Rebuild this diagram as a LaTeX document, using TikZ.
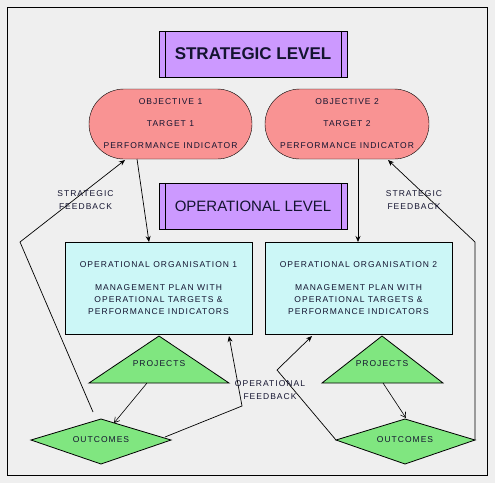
\documentclass[tikz,border=0pt]{standalone}
\usepackage{fontspec}
\setmainfont{Liberation Sans}
\newfontfamily\lbl[LetterSpace=12]{Liberation Sans}
\newfontfamily\bigf{Liberation Sans}
\usetikzlibrary{arrows.meta}
\definecolor{bgc}{HTML}{EFEFEF}
\definecolor{purp}{HTML}{CC99FF}
\definecolor{salm}{HTML}{F99393}
\definecolor{cyanb}{HTML}{CCF7F7}
\definecolor{grn}{HTML}{80E680}
\definecolor{txt}{HTML}{141430}
\tikzset{
  small/.style={font=\lbl\fontsize{8.5}{13}\selectfont, text=txt, inner sep=0pt},
  levelbox/.style={draw=black, fill=purp, minimum width=188pt, minimum height=46pt, inner sep=0pt, text=txt},
  pill/.style={draw=black, fill=salm, rounded corners=35pt, minimum width=163pt, minimum height=70pt, inner sep=0pt, align=center, text=txt, font=\lbl\fontsize{8.5}{22}\selectfont},
  opbox/.style={draw=black, fill=cyanb, minimum width=187pt, minimum height=92pt, inner sep=0pt, align=center, text=txt, font=\lbl\fontsize{8.5}{12}\selectfont},
  shp/.style={draw=black, fill=grn, line width=0.8pt},
  conn/.style={draw=black, line width=0.7pt, -{Stealth[length=6pt,width=5pt]}},
  oconn/.style={draw=black, line width=0.6pt, -{Straight Barb[length=5pt,width=6pt]}},
  lab/.style={small, align=center}
}
\begin{document}
\begin{tikzpicture}[x=1pt,y=-1pt]
\fill[bgc] (0,0) rectangle (495,483);
\useasboundingbox (0,0) rectangle (495,483);
\draw[line width=0.9pt] (7,7) rectangle (487,475);

% level boxes
\node[levelbox, font=\bigf\bfseries\fontsize{17}{18}\selectfont] (strat) at (253,54) {STRATEGIC LEVEL};
\draw ([xshift=6pt]strat.north west) -- ([xshift=6pt]strat.south west);
\draw ([xshift=-6pt]strat.north east) -- ([xshift=-6pt]strat.south east);
\node[levelbox, font=\bigf\fontsize{15}{18}\selectfont] (oper) at (253,206) {OPERATIONAL LEVEL};
\draw ([xshift=6pt]oper.north west) -- ([xshift=6pt]oper.south west);
\draw ([xshift=-6pt]oper.north east) -- ([xshift=-6pt]oper.south east);

% objectives
\node[pill] (obj1) at (170.5,124) {OBJECTIVE 1\\TARGET 1\\PERFORMANCE INDICATOR};
\node[pill, minimum width=164pt] (obj2) at (347,124) {OBJECTIVE 2\\TARGET 2\\PERFORMANCE INDICATOR};

% operational organisations
\node[opbox] (op1) at (158.5,288) {OPERATIONAL ORGANISATION 1\\[11pt]MANAGEMENT PLAN WITH\\OPERATIONAL TARGETS \&\\PERFORMANCE INDICATORS};
\node[opbox] (op2) at (358.5,288) {OPERATIONAL ORGANISATION 2\\[11pt]MANAGEMENT PLAN WITH\\OPERATIONAL TARGETS \&\\PERFORMANCE INDICATORS};

% projects triangles
\draw[shp] (159,336) -- (229,383) -- (89,383) -- cycle;
\node[small] (proj1) at (159,364) {PROJECTS};
\draw[shp] (382,336) -- (443,383) -- (322,383) -- cycle;
\node[small] (proj2) at (382,364) {PROJECTS};

% outcomes diamonds
\draw[shp] (31,440) -- (101,419) -- (171,440) -- (101,464) -- cycle;
\node[small] (out1) at (101,440) {OUTCOMES};
\draw[shp] (336,440) -- (405,419) -- (475,440) -- (405,464) -- cycle;
\node[small] (out2) at (405,440) {OUTCOMES};

% coordinates for connector ends
\coordinate (o1b) at (137,159);
\coordinate (o1fb) at (125,160);
\coordinate (o2b) at (358,159);
\coordinate (o2fb) at (388,160);
\coordinate (op1t) at (149,242);
\coordinate (op2t) at (358,242);
\coordinate (op1b) at (229,336);
\coordinate (op2b) at (312,336);
\coordinate (p1b) at (147,383);
\coordinate (p2b) at (383,383);
\coordinate (u1t) at (114,423);
\coordinate (u2t) at (406,418);
\coordinate (u1s) at (93,412);
\coordinate (u1r) at (165,437);
\coordinate (u2l) at (336,440);
\coordinate (u2r) at (475,440);
\coordinate (b1) at (20,242);
\coordinate (b2) at (475,242);
\coordinate (b3) at (242,406);
\coordinate (b4) at (277,370);

% connectors
\draw[conn] (o1b) -- (op1t);
\draw[conn] (o2b) -- (op2t);
\draw[oconn] (p1b) -- (u1t);
\draw[oconn] (p2b) -- (u2t);
\draw[conn] (u1s) -- (b1) -- (o1fb);
\draw[conn] (u2r) -- (b2) -- (o2fb);
\draw[conn] (u1r) -- (b3) -- (op1b);
\draw[conn] (u2l) -- (b4) -- (op2b);

% labels
\node[lab] (sf1) at (85.5,200.5) {STRATEGIC\\FEEDBACK};
\node[lab] (sf2) at (414,200.5) {STRATEGIC\\FEEDBACK};
\node[lab] (of) at (270,390) {OPERATIONAL\\FEEDBACK};
\end{tikzpicture}
\end{document}
